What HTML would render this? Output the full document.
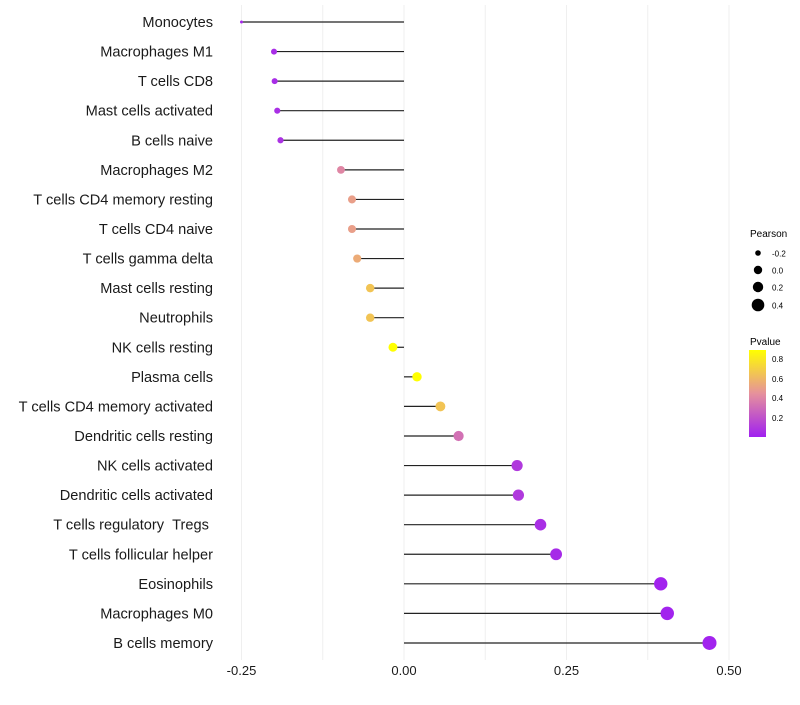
<!DOCTYPE html>
<html><head><meta charset="utf-8"><style>
body{margin:0;background:#fff;font-family:"Liberation Sans",sans-serif}
</style></head><body>
<svg id="chart" width="800" height="700" xmlns="http://www.w3.org/2000/svg" font-family="Liberation Sans, sans-serif">
<defs><linearGradient id="pg" x1="0" y1="1" x2="0" y2="0">
<stop offset="0" stop-color="#a020f0"/><stop offset="0.5" stop-color="#e6919c"/><stop offset="1" stop-color="#ffff00"/></linearGradient></defs>
<g id="grid"></g>
<g id="marks"></g>
<g id="ylabels"></g>
<g id="xlabels"></g>
<g>
<text x="750" y="237" font-size="10" fill="#000">Pearson</text>
<circle cx="758" cy="253" r="2.8"/><text x="772" y="256.5" font-size="8">-0.2</text>
<circle cx="758" cy="270" r="4.2"/><text x="772" y="273.5" font-size="8">0.0</text>
<circle cx="758" cy="287" r="5.2"/><text x="772" y="290.5" font-size="8">0.2</text>
<circle cx="758" cy="305" r="6.3"/><text x="772" y="308.5" font-size="8">0.4</text>
</g>
<g>
<text x="750" y="345" font-size="10">Pvalue</text>
<rect x="749" y="350" width="17" height="87" fill="url(#pg)"/>
<text x="772" y="362" font-size="8">0.8</text>
<text x="772" y="382" font-size="8">0.6</text>
<text x="772" y="401" font-size="8">0.4</text>
<text x="772" y="421" font-size="8">0.2</text>
</g>
</svg>
<script>
const categories=["Monocytes","Macrophages M1","T cells CD8","Mast cells activated","B cells naive","Macrophages M2","T cells CD4 memory resting","T cells CD4 naive","T cells gamma delta","Mast cells resting","Neutrophils","NK cells resting","Plasma cells","T cells CD4 memory activated","Dendritic cells resting","NK cells activated","Dendritic cells activated","T cells regulatory\u00a0\u00a0Tregs\u00a0","T cells follicular helper","Eosinophils","Macrophages M0","B cells memory"];
const pearson=[-0.25,-0.2,-0.199,-0.195,-0.19,-0.097,-0.08,-0.08,-0.072,-0.052,-0.052,-0.017,0.02,0.056,0.084,0.174,0.176,0.21,0.234,0.395,0.405,0.47];
const pvalue=[0.03,0.05,0.05,0.06,0.07,0.4,0.5,0.5,0.55,0.65,0.65,0.9,0.9,0.65,0.32,0.1,0.1,0.06,0.04,0.01,0.01,0.01];
const xTicks=[-0.25,0,0.25,0.5];
const xTickLabels=["-0.25","0.00","0.25","0.50"];
const NS="http://www.w3.org/2000/svg";
const x=v=>404+v*650;
const y=i=>22+i*29.57;
const rad=v=>v<-0.2?Math.max(1.3,3-30*(-0.2-v)):Math.sqrt(9+60*(v+0.2));
function lerp(a,b,t){return a.map((c,i)=>Math.round(c+(b[i]-c)*t));}
function col(p){const t=Math.min(1,Math.max(0,p/0.89));const A=[160,32,240],M=[230,145,156],B=[255,255,0];
 const c=t<0.5?lerp(A,M,t/0.5):lerp(M,B,(t-0.5)/0.5);return `rgb(${c})`;}
function mk(tag,at,parent){const e=document.createElementNS(NS,tag);for(const k in at)e.setAttribute(k,at[k]);document.getElementById(parent).appendChild(e);return e;}
for(let v=-0.25;v<=0.5001;v+=0.125){const g=mk("line",{x1:x(v),x2:x(v),y1:5,y2:660,stroke:"#efefef","stroke-width":1},"grid");

}
categories.forEach((c,i)=>{
 const l=mk("line",{x1:x(0),x2:x(pearson[i]),y1:y(i),y2:y(i),stroke:"#222","stroke-width":1.2},"marks");
 
 
 const p=mk("circle",{cx:x(pearson[i]),cy:y(i),r:rad(pearson[i]),fill:col(pvalue[i])},"marks");
 
 
 const t=mk("text",{x:213,y:y(i)+5,"text-anchor":"end","font-size":14.6,fill:"#1a1a1a"},"ylabels");
 t.textContent=c;
 
 
});
xTicks.forEach((v,i)=>{const t=mk("text",{x:x(v),y:675,"text-anchor":"middle","font-size":13,fill:"#1a1a1a"},"xlabels");
 t.textContent=xTickLabels[i];
 
 });
</script>
</body></html>
